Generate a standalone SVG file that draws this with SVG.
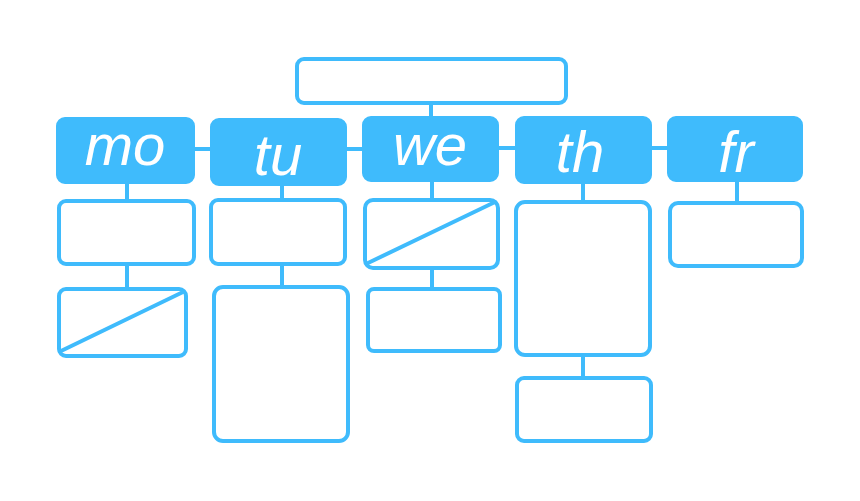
<svg xmlns="http://www.w3.org/2000/svg" width="860" height="501" viewBox="0 0 860 501">
<style>
.box{fill:#ffffff;stroke:#3fbbfc;stroke-width:4;}
.hdr{fill:#3fbbfc;stroke:#3fbbfc;stroke-width:2;}
.lbl{fill:#ffffff;font-family:"Liberation Sans",Arial,sans-serif;font-style:italic;font-size:58px;text-anchor:middle;}
.ln{stroke:#3fbbfc;stroke-width:4;fill:none;stroke-linecap:round;}
</style>
<rect width="860" height="501" fill="#ffffff"/>
<g id="connectors">
<line class="ln" x1="431" y1="103" x2="431" y2="117"/>
<line class="ln" x1="194" y1="149" x2="210" y2="149"/>
<line class="ln" x1="346" y1="149" x2="362" y2="149"/>
<line class="ln" x1="498" y1="148" x2="515" y2="148"/>
<line class="ln" x1="651" y1="148" x2="667" y2="148"/>
<line class="ln" x1="127" y1="183" x2="127" y2="200"/>
<line class="ln" x1="127" y1="264" x2="127" y2="289"/>
<line class="ln" x1="282" y1="185" x2="282" y2="200"/>
<line class="ln" x1="282" y1="264" x2="282" y2="287"/>
<line class="ln" x1="432" y1="181" x2="432" y2="199"/>
<line class="ln" x1="432" y1="268" x2="432" y2="288"/>
<line class="ln" x1="583" y1="183" x2="583" y2="201"/>
<line class="ln" x1="583" y1="355" x2="583" y2="377"/>
<line class="ln" x1="737" y1="181" x2="737" y2="203"/>
</g>
<g id="top"><rect class="box" x="297" y="59" width="269" height="44" rx="7"/></g>
<g id="mo"><rect class="hdr" x="57" y="118" width="137" height="65" rx="8"/><text class="lbl" x="125" y="165">mo</text></g>
<g id="tu"><rect class="hdr" x="211" y="119" width="135" height="66" rx="8"/><text class="lbl" x="278" y="175">tu</text></g>
<g id="we"><rect class="hdr" x="363" y="117" width="135" height="64" rx="8"/><text class="lbl" x="430" y="165">we</text></g>
<g id="th"><rect class="hdr" x="516" y="117" width="135" height="66" rx="8"/><text class="lbl" x="580" y="172">th</text></g>
<g id="fr"><rect class="hdr" x="668" y="117" width="134" height="64" rx="8"/><text class="lbl" x="736" y="172">fr</text></g>
<g id="mo1"><rect class="box" x="59" y="201" width="135" height="63" rx="7"/></g>
<g id="mo2"><rect class="box" x="59" y="289" width="127" height="67" rx="7"/><line class="ln" x1="61" y1="351" x2="183" y2="292"/></g>
<g id="tu1"><rect class="box" x="211" y="200" width="134" height="64" rx="7"/></g>
<g id="tu2"><rect class="box" x="214" y="287" width="134" height="154" rx="9"/></g>
<g id="we1"><rect class="box" x="365" y="200" width="133" height="68" rx="8"/><line class="ln" x1="368" y1="263" x2="495" y2="202"/></g>
<g id="we2"><rect class="box" x="368" y="289" width="132" height="62" rx="6"/></g>
<g id="th1"><rect class="box" x="516" y="202" width="134" height="153" rx="9"/></g>
<g id="th2"><rect class="box" x="517" y="378" width="134" height="63" rx="7"/></g>
<g id="fr1"><rect class="box" x="670" y="203" width="132" height="63" rx="8"/></g>
</svg>
